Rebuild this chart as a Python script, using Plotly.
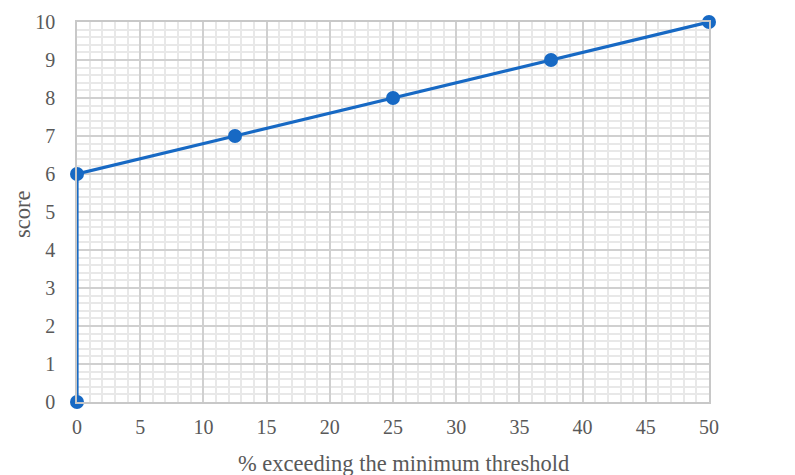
import plotly.graph_objects as go

x_vals = [0, 0, 12.5, 25, 37.5, 50]
y_vals = [0, 6, 7, 8, 9, 10]
x_ticks = [0, 5, 10, 15, 20, 25, 30, 35, 40, 45, 50]
y_ticks = [0, 1, 2, 3, 4, 5, 6, 7, 8, 9, 10]
x_title = "% exceeding the minimum threshold"
y_title = "score"

fig = go.Figure()
fig.add_trace(go.Scatter(
    x=x_vals, y=y_vals, mode="lines+markers",
    line=dict(color="#1769c4", width=3.2),
    marker=dict(color="#1769c4", size=14),
    cliponaxis=False, showlegend=False,
))

font_family = "Liberation Serif, DejaVu Serif, serif"
fig.update_layout(
    width=795, height=475,
    margin=dict(l=69, r=94, t=14, b=81),
    paper_bgcolor="white", plot_bgcolor="white",
    font=dict(family=font_family, color="#595959", size=20),
    xaxis=dict(
        range=[0, 50], tickvals=x_ticks, ticks="", automargin=False,
        ticklabelstandoff=6,
        showgrid=True, gridcolor="#d0d0d0", gridwidth=1.5,
        minor=dict(dtick=1, showgrid=True, gridcolor="#e8e8e8", gridwidth=1.5),
        zeroline=False, showline=True, linecolor="#c8c8c8", linewidth=1.5, mirror=True,
        tickfont=dict(size=20, color="#595959"),
    ),
    yaxis=dict(
        range=[0, 10], tickvals=y_ticks, ticks="", automargin=False,
        ticklabelstandoff=16,
        showgrid=True, gridcolor="#d0d0d0", gridwidth=1.5,
        minor=dict(dtick=0.2, showgrid=True, gridcolor="#e8e8e8", gridwidth=1.5),
        zeroline=False, showline=True, linecolor="#c8c8c8", linewidth=1.5, mirror=True,
        tickfont=dict(size=20, color="#595959"),
    ),
)
fig.add_annotation(
    text=x_title, xref="paper", yref="paper", x=0.5, y=0,
    xanchor="center", yanchor="middle", xshift=10, yshift=-61,
    showarrow=False, font=dict(size=22.5, color="#595959", family=font_family),
)
fig.add_annotation(
    text=y_title, xref="paper", yref="paper", x=0, y=0.5, textangle=-90,
    xanchor="center", yanchor="middle", xshift=-55, yshift=-3,
    showarrow=False, font=dict(size=22.5, color="#595959", family=font_family),
)
fig.write_html("out.html")
